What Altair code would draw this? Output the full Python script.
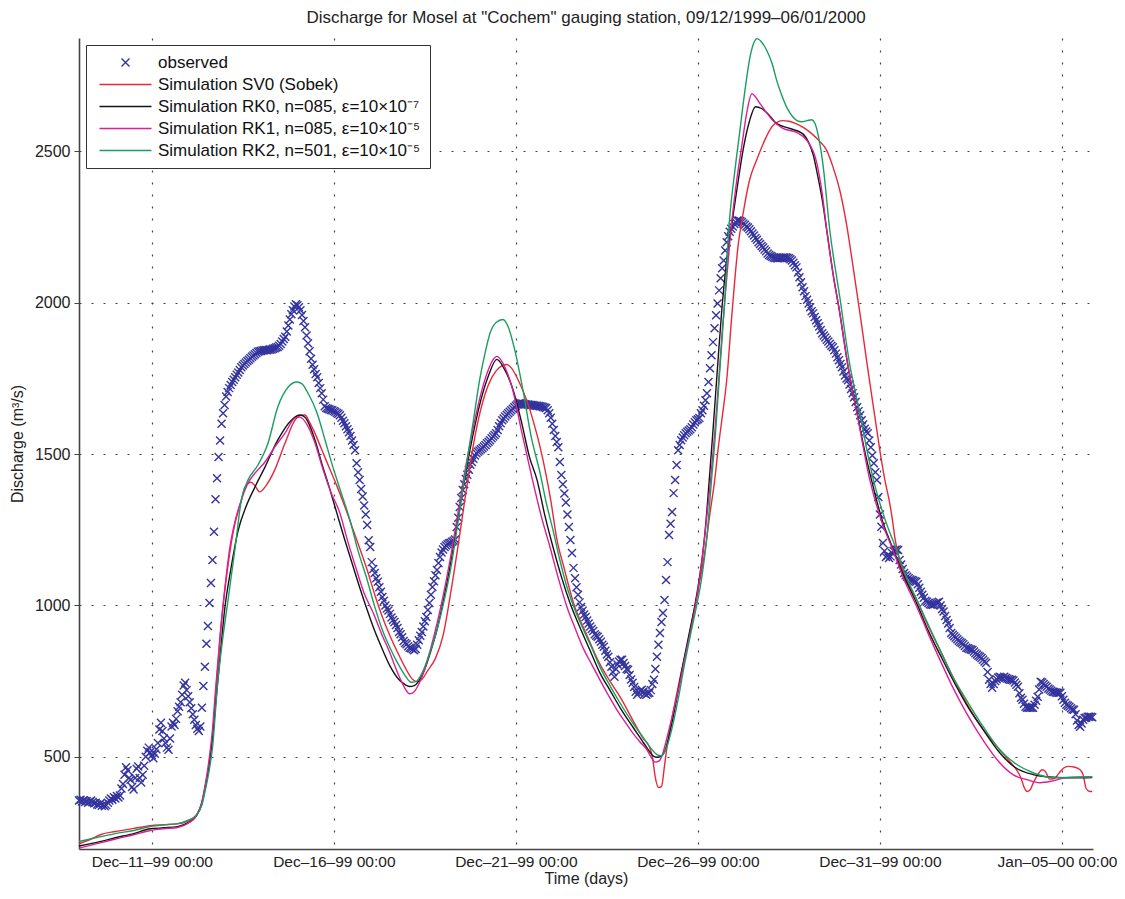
import altair as alt
import pandas as pd

START = pd.Timestamp("1999-12-09 00:00:00")

# observed discharge, hourly from 09/12/1999 00:00 (m3/s)
OBS = [
    355, 358, 352, 356, 350, 354, 348, 352, 355, 350,
    346, 348, 342, 340, 345, 338, 342, 336, 340, 348,
    355, 362, 358, 366, 362, 370, 365, 372,
    395, 410, 440, 465, 455, 430, 424, 400, 392, 430,
    460, 468, 430, 415, 440, 470, 500, 520, 530, 515,
    505, 495, 510, 525, 545, 590, 612, 585, 560, 545,
    530, 523, 560, 600, 612, 605, 625, 650, 665, 680,
    705, 735, 744, 720, 700, 680, 660, 640, 622, 605,
    592, 585, 600,
    662, 734, 797, 873, 932, 1008, 1074, 1150, 1243, 1351,
    1420, 1490, 1545, 1600, 1635, 1662, 1690, 1705, 1718, 1728,
    1738, 1746, 1754, 1762, 1770, 1778, 1787, 1793, 1798, 1803,
    1808, 1812, 1817, 1822, 1826, 1830, 1834, 1838, 1840, 1841,
    1842, 1843, 1844, 1843, 1845, 1846, 1846, 1848, 1850, 1852,
    1854, 1858, 1864, 1872, 1880, 1888, 1905, 1925, 1945, 1962,
    1975, 1988, 1995, 1992, 1985, 1975, 1960, 1940, 1919, 1892,
    1866, 1840, 1815, 1795, 1780, 1765, 1754, 1735, 1718, 1701,
    1680, 1658, 1652, 1650, 1648, 1646, 1645, 1642, 1640, 1636,
    1633, 1628, 1620, 1610, 1602, 1592, 1582, 1572, 1560, 1545,
    1530, 1513, 1470, 1440, 1414, 1385, 1360, 1330, 1300, 1266,
    1215, 1193, 1143, 1120, 1107, 1090, 1078, 1060, 1045, 1028,
    1015, 1000, 990, 983, 972, 960, 952, 945, 935, 925,
    912, 905, 895, 882, 876, 872, 865, 860, 858, 855,
    852, 856, 870, 885, 900, 912, 930, 948, 962, 985,
    1008, 1035, 1061, 1080, 1100, 1117, 1140, 1160, 1175, 1185,
    1193, 1198, 1202, 1205, 1207, 1210, 1214, 1218, 1259, 1290,
    1325, 1355, 1381, 1400, 1418, 1432, 1448, 1465, 1474, 1485,
    1495, 1503, 1508, 1512, 1516, 1520, 1525, 1530, 1536, 1541,
    1546, 1552, 1558, 1563, 1569, 1580, 1592, 1602, 1612, 1618,
    1624, 1630, 1635, 1640, 1645, 1650, 1655, 1660, 1664, 1668,
    1668, 1667, 1666, 1665, 1664, 1664, 1663, 1662, 1662, 1661,
    1660, 1660, 1659, 1658, 1657, 1656, 1654, 1652, 1645, 1635,
    1620, 1600, 1580, 1560, 1540, 1523, 1474, 1431, 1400, 1370,
    1340, 1300, 1259, 1216, 1173, 1124, 1090, 1060, 1035, 1010,
    995, 982, 970, 962, 950, 940, 930, 922, 915, 905,
    900, 896, 888, 880, 870, 863, 850, 838, 830, 812,
    797, 780, 764, 790, 805, 815, 820, 820, 810, 800,
    790, 787, 770, 755, 744, 730, 715, 705, 712, 718,
    721, 715, 708, 705, 710, 711, 720, 740, 754, 790,
    830, 870, 909, 945, 975, 1018, 1084, 1143, 1233, 1270,
    1309, 1371, 1414, 1464, 1513, 1530, 1546, 1555, 1562, 1569,
    1574, 1578, 1582, 1589, 1598, 1605, 1612, 1615, 1619, 1635,
    1645, 1660, 1678, 1701, 1738, 1784, 1827, 1870, 1916, 1959,
    1998, 2041, 2081, 2114, 2140, 2173, 2200, 2220, 2235, 2245,
    2252, 2260, 2266, 2272, 2272, 2270, 2267, 2262, 2258, 2252,
    2249, 2243, 2236, 2229, 2222, 2214, 2208, 2200, 2194, 2188,
    2183, 2176, 2170, 2163, 2158, 2155, 2152, 2150, 2148, 2147,
    2147, 2148, 2149, 2150, 2150, 2150, 2149, 2147, 2144, 2140,
    2132, 2124, 2117, 2100, 2084, 2068, 2051, 2038, 2022, 2010,
    1998, 1985, 1972, 1965, 1953, 1942, 1932, 1922, 1910, 1899,
    1892, 1885, 1878, 1872, 1865, 1858, 1853, 1843, 1832, 1820,
    1810, 1798, 1787, 1773, 1760, 1750, 1744, 1730, 1715, 1701,
    1688, 1672, 1655, 1642, 1628, 1612, 1598, 1584, 1575, 1569,
    1545, 1523, 1495, 1470, 1440, 1414, 1358, 1300, 1260, 1206,
    1180, 1160, 1165, 1157, 1162, 1173, 1180, 1183, 1185, 1183,
    1150, 1135, 1120, 1107, 1100, 1095, 1090, 1086, 1084, 1082,
    1080, 1078, 1070, 1058, 1045, 1035, 1025, 1015, 1012, 1008,
    1004, 1002, 1002, 1004, 1008, 1010, 1012, 1000, 988, 980,
    965, 952, 940, 925, 909, 903, 898, 893, 888, 883,
    879, 876, 872, 866, 860, 858, 856, 854, 853, 848,
    842, 838, 834, 830, 826, 820, 815, 810, 780, 754,
    740, 728, 740, 750, 756, 762, 764, 762, 760, 764,
    760, 758, 756, 754, 754, 752, 745, 738, 731, 710,
    695, 688, 675, 665, 662, 662, 662, 662, 662, 672,
    685, 698, 722, 748, 745, 740, 735, 731, 725, 722,
    718, 715, 714, 712, 711, 711, 711, 700, 688, 678,
    672, 668, 665, 660, 656, 655, 640, 620, 605, 599,
    610, 622, 628, 629, 632, 632, 632, 630,
]

# simulations: (hours since 09/12/1999 00:00, discharge)
SV0 = [
    (0, 212), (8, 228), (14.5, 243), (24, 253), (36, 263), (47, 272), (56, 275), (65, 278),
    (72, 288), (77, 305), (81, 350), (83.5, 410), (86, 480), (88, 560), (90, 700), (91.6, 800),
    (94, 950), (97, 1084), (101.5, 1239), (105.5, 1322), (107, 1345), (109.4, 1391), (113.4, 1407),
    (116, 1395), (119.3, 1375), (122.6, 1391), (129, 1447), (135.8, 1536), (142.4, 1612), (146, 1628),
    (149, 1629), (152, 1605), (155, 1575), (160, 1515), (165, 1455), (170, 1395), (175, 1330),
    (180, 1260), (185, 1190), (190, 1117), (195, 1035), (200, 962), (205, 900), (210, 845),
    (215, 795), (220, 755), (223, 748), (226, 755), (230, 785), (235, 825), (240, 900), (245, 1040),
    (250, 1200), (255, 1370), (260, 1530), (265, 1650), (270, 1730), (275, 1775), (279, 1792),
    (282, 1796), (285, 1785), (290, 1740), (295, 1680), (300, 1600), (304, 1523), (308, 1430),
    (311, 1348), (315, 1220), (320, 1120), (326, 1008), (335, 900), (343, 810), (350, 750),
    (357, 695), (365, 622), (372, 560), (376, 533), (378, 500), (380, 430), (382, 398), (384, 401),
    (386, 470), (388, 545), (391.6, 645), (396, 755), (400.8, 863), (405, 970), (409.4, 1084),
    (413, 1190), (416, 1305), (419, 1410), (421.5, 1523), (424, 1620), (427, 1744), (430.5, 1965),
    (434.4, 2183), (438, 2300), (442, 2404), (447, 2475), (451, 2525), (457.5, 2586), (464, 2602),
    (468, 2600), (472.6, 2592), (478, 2578), (483, 2559), (488, 2535), (493, 2503), (497, 2450),
    (501.6, 2371), (506, 2260), (510, 2130), (515, 1960), (519.5, 1800), (523, 1680), (526, 1579),
    (529, 1480), (531.3, 1414), (534, 1350), (536, 1292), (538, 1220), (541, 1150), (546, 1080),
    (552.4, 1018), (560, 930), (567.6, 853), (576, 765), (585, 678), (596, 590), (607, 523),
    (613, 488), (618, 457), (621, 430), (623, 400), (625, 385), (627, 390), (629, 412), (632, 440),
    (635, 457), (637, 452), (640, 426), (643, 428), (646, 445), (649, 462), (652, 468), (656, 466),
    (660, 457), (662, 440), (664, 395), (666, 386), (668, 385),
]

RK0 = [
    (0, 205), (14.5, 220), (24, 232), (36, 246), (47, 262), (56, 265), (65, 269), (72, 282),
    (77, 302), (81, 345), (83.5, 405), (86, 480), (88, 560), (90, 670), (93, 830), (96, 985),
    (100, 1117), (105, 1249), (110, 1325), (116, 1391), (122.6, 1457), (131, 1546), (140, 1612),
    (145.7, 1629), (149, 1622), (152, 1595), (156, 1540), (160, 1470), (165, 1390), (170, 1305),
    (175, 1220), (180, 1140), (185, 1060), (190, 985), (195, 915), (200, 855), (205, 800),
    (210, 760), (215, 738), (218, 732), (221, 735), (224, 750), (228, 790), (232, 850), (236, 920),
    (240, 1010), (245, 1140), (250, 1290), (255, 1440), (260, 1570), (265, 1680), (270, 1760),
    (275.5, 1813), (280, 1785), (286, 1715), (292, 1600), (297, 1490), (302, 1414), (307, 1300),
    (312.5, 1193), (318, 1095), (323.7, 1008), (330, 930), (337, 850), (343.4, 777), (350, 720),
    (357, 660), (365, 599), (371, 555), (375, 525), (378, 505), (381, 498), (384, 502), (387, 530),
    (390, 590), (394, 690), (398, 800), (402, 900), (406, 1000), (409, 1090), (412.5, 1230),
    (415.5, 1414), (418, 1580), (421, 1790), (424, 1990), (427, 2140), (431, 2282), (434.5, 2400),
    (438, 2510), (442, 2600), (446, 2648), (450, 2642), (453.5, 2628), (460, 2592), (468.7, 2576),
    (477, 2559), (481, 2530), (484, 2490), (487, 2420), (490, 2340), (493, 2239), (497, 2100),
    (501.6, 1965), (507, 1790), (513, 1635), (518, 1510), (522.5, 1414), (529, 1290), (536, 1195),
    (544, 1095), (552.4, 1005), (560, 915), (567.6, 838), (576, 755), (585, 673), (596, 590),
    (607, 513), (617, 465), (629, 441), (640, 433), (655, 430), (668, 431),
]

RK1 = [
    (0, 198), (14.5, 216), (24, 228), (36, 242), (47, 256), (56, 262), (65, 266), (72, 280),
    (77, 302), (81, 350), (83.5, 415), (86, 500), (88, 590), (90, 720), (93, 900), (96, 1050),
    (99.5, 1193), (103, 1280), (107, 1348), (111.4, 1404), (116, 1437), (122.6, 1474), (129, 1523),
    (135.8, 1569), (142.4, 1619), (145.7, 1622), (150, 1600), (155, 1545), (161, 1447), (166, 1375),
    (172, 1305), (177, 1215), (183, 1117), (188, 1040), (194, 975), (200, 900), (205, 843),
    (209, 790), (212, 755), (215, 725), (218, 708), (221, 715), (224, 740), (228, 790), (232, 860),
    (236, 940), (240, 1030), (245, 1160), (250, 1310), (255, 1460), (260, 1590), (265, 1700),
    (270, 1780), (273, 1812), (275.5, 1823), (279, 1805), (283, 1760), (286, 1711), (292, 1570),
    (299, 1414), (305, 1290), (310.5, 1193), (316, 1090), (321.7, 995), (327, 925), (332, 863),
    (338, 805), (343.4, 754), (349, 703), (354.6, 655), (360, 615), (365, 579), (370, 548),
    (374.4, 523), (377, 500), (380, 482), (382.5, 486), (385, 513), (388, 570), (391.6, 645),
    (396, 740), (400, 840), (404, 935), (407.4, 1030), (411, 1160), (414, 1300), (416.5, 1420),
    (419.3, 1580), (422, 1760), (424, 1900), (427, 2080), (430, 2250), (433.5, 2400), (437, 2520),
    (440.3, 2630), (443.6, 2691), (449, 2658), (453, 2630), (457.5, 2602), (464, 2576), (473, 2563),
    (480, 2536), (486.5, 2460), (490, 2360), (493, 2239), (497, 2100), (501.6, 1965), (507, 1790),
    (512.9, 1635), (521.4, 1414), (529, 1280), (536.6, 1183), (544, 1085), (552.4, 995), (560, 905),
    (567.6, 820), (576, 730), (585, 645), (596, 555), (607, 480), (616, 440), (625, 424),
    (633.5, 414), (642, 420), (651, 431), (668, 434),
]

RK2 = [
    (0, 220), (14.5, 236), (24, 246), (36, 256), (47, 269), (56, 275), (65, 279), (72, 290),
    (77, 305), (81, 340), (83.5, 395), (86, 460), (88, 530), (91.6, 754), (95, 900), (98, 1008),
    (103, 1193), (107, 1348), (111.4, 1414), (118, 1464), (124.6, 1536), (131, 1655), (137.8, 1721),
    (143.7, 1738), (147, 1732), (151, 1701), (157, 1635), (162, 1550), (167.4, 1457), (173, 1370),
    (178.6, 1282), (184, 1180), (190, 1084), (195, 995), (200, 919), (205, 860), (210, 810),
    (215, 768), (219, 746), (222, 748), (226, 775), (230, 825), (235, 900), (240, 1000), (245, 1120),
    (250, 1280), (255, 1450), (260, 1610), (264.3, 1750), (268, 1840), (271, 1900), (275, 1935),
    (279.5, 1945), (283, 1920), (287, 1850), (292.7, 1711), (298, 1560), (304, 1437), (308, 1340),
    (312.5, 1249), (317, 1150), (321.7, 1061), (327, 985), (333, 915), (338, 860), (343.4, 797),
    (350, 735), (357, 675), (365, 612), (371, 570), (376, 535), (381, 507), (384, 503), (387.6, 533),
    (391, 595), (395, 690), (399, 800), (403, 900), (407, 995), (410.5, 1090), (414, 1230),
    (417, 1414), (419.5, 1560), (422.5, 1780), (425.5, 1990), (429, 2282), (432, 2420),
    (435.7, 2569), (439, 2700), (442.3, 2810), (445, 2860), (447, 2873), (450, 2862), (453.5, 2833),
    (457, 2790), (460, 2734), (463, 2690), (466.7, 2645), (470, 2618), (473.3, 2602), (476.5, 2598),
    (480, 2602), (483, 2605), (485, 2595), (487.5, 2550), (490.4, 2460), (495, 2239), (501.6, 2018),
    (508, 1800), (514.8, 1635), (519, 1525), (524, 1410), (531, 1290), (539, 1183), (545, 1100),
    (552.4, 1018), (560, 935), (567.6, 853), (576, 765), (585, 688), (596, 600), (607, 523),
    (618, 475), (629, 447), (642, 431), (655, 432), (668, 434),
]

NAMES = [
    "observed",
    "Simulation SV0 (Sobek)",
    "Simulation RK0, n=085, \u03b5=10\u00d710\u207b\u2077",
    "Simulation RK1, n=085, \u03b5=10\u00d710\u207b\u2075",
    "Simulation RK2, n=501, \u03b5=10\u00d710\u207b\u2075",
]
COLORS = ["#34349e", "#e8283a", "#141414", "#dc1e98", "#1a9e60"]

X_PATH = "M-1,-1L1,1M-1,1L1,-1"
L_PATH = "M-6.5,0L6.5,0"


def iso(h):
    return (START + pd.Timedelta(hours=h)).strftime("%Y-%m-%dT%H:%M:%S") + "Z"


obs_df = pd.DataFrame({
    "time": [iso(h) for h in range(len(OBS))],
    "value": OBS,
    "series": NAMES[0],
})

rows = []
for name, ser in zip(NAMES[1:], [SV0, RK0, RK1, RK2]):
    for h, v in ser:
        rows.append({"time": iso(h), "value": v, "series": name})
sim_df = pd.DataFrame(rows)

FONT = "Liberation Sans"

xscale = alt.Scale(
    type="utc",
    domain=[alt.DateTime(year=1999, month=12, date=9, utc=True),
            alt.DateTime(year=2000, month=1, date=5, hours=20, minutes=30, utc=True)],
)
yscale = alt.Scale(domain=[195, 2875], nice=False, zero=False)

tick_dates = [
    alt.DateTime(year=1999, month=12, date=11, utc=True),
    alt.DateTime(year=1999, month=12, date=16, utc=True),
    alt.DateTime(year=1999, month=12, date=21, utc=True),
    alt.DateTime(year=1999, month=12, date=26, utc=True),
    alt.DateTime(year=1999, month=12, date=31, utc=True),
    alt.DateTime(year=2000, month=1, date=5, utc=True),
]

xaxis = alt.Axis(
    values=tick_dates,
    labelExpr="utcFormat(datum.value, '%b\u2013%d\u2013%y %H:%M')",
    title="Time (days)", grid=True, gridDash=[2, 10], gridColor="#444", gridWidth=1.2,
    ticks=False, labelPadding=5, labelFontSize=15.5, titleFontSize=16, titleFontWeight="normal",
    titlePadding=1, domainColor="#444", domainWidth=1.6, labelColor="#222", titleColor="#222",
    labelOverlap=False, labelBound=False, labelFlush=40, labelFlushOffset=55,
)
yaxis = alt.Axis(
    values=[500, 1000, 1500, 2000, 2500], format="d",
    title="Discharge (m\u00b3/s)", grid=True, gridDash=[2, 10], gridColor="#444", gridWidth=1.2,
    ticks=True, tickSize=5, tickColor="#444", labelPadding=4, labelFontSize=16, titleFontSize=16,
    titleFontWeight="normal", titlePadding=9, domainColor="#444", domainWidth=1.6,
    labelColor="#222", titleColor="#222",
)

color_scale = alt.Scale(domain=NAMES, range=COLORS)
shape_scale = alt.Scale(domain=NAMES, range=[X_PATH, L_PATH, L_PATH, L_PATH, L_PATH])

legend = alt.Legend(
    title=None, orient="none", legendX=7, legendY=7, direction="vertical",
    fillColor="white", strokeColor="#333", padding=9, labelFontSize=17, labelColor="#111",
    labelFont=FONT, symbolSize=64, symbolStrokeWidth=1.4, symbolOffset=22, labelOffset=24,
    rowPadding=4, labelLimit=0,
)

points = alt.Chart(obs_df).mark_point(filled=False, size=64, strokeWidth=1.4, opacity=1).encode(
    x=alt.X("time:T", scale=xscale, axis=xaxis),
    y=alt.Y("value:Q", scale=yscale, axis=yaxis),
    color=alt.Color("series:N", scale=color_scale, legend=legend),
    shape=alt.Shape("series:N", scale=shape_scale, legend=legend),
)

lines = alt.Chart(sim_df).mark_line(strokeWidth=1.4, interpolate="monotone").encode(
    x=alt.X("time:T", scale=xscale, axis=xaxis),
    y=alt.Y("value:Q", scale=yscale, axis=yaxis),
    color=alt.Color("series:N", scale=color_scale, legend=None),
)

chart = alt.layer(points, lines).properties(
    width=1014, height=811,
    title=alt.TitleParams(
        'Discharge for Mosel at "Cochem" gauging station, 09/12/1999\u201306/01/2000',
        fontSize=17, fontWeight="normal", color="#222", anchor="middle", offset=9, font=FONT,
    ),
    autosize=alt.AutoSizeParams(type="none"),
    padding={"left": 71, "top": 30, "right": 24, "bottom": 42},
).configure(font=FONT).configure_view(stroke=None)

chart.save("out.html", embed_options={"renderer": "svg", "actions": False})
